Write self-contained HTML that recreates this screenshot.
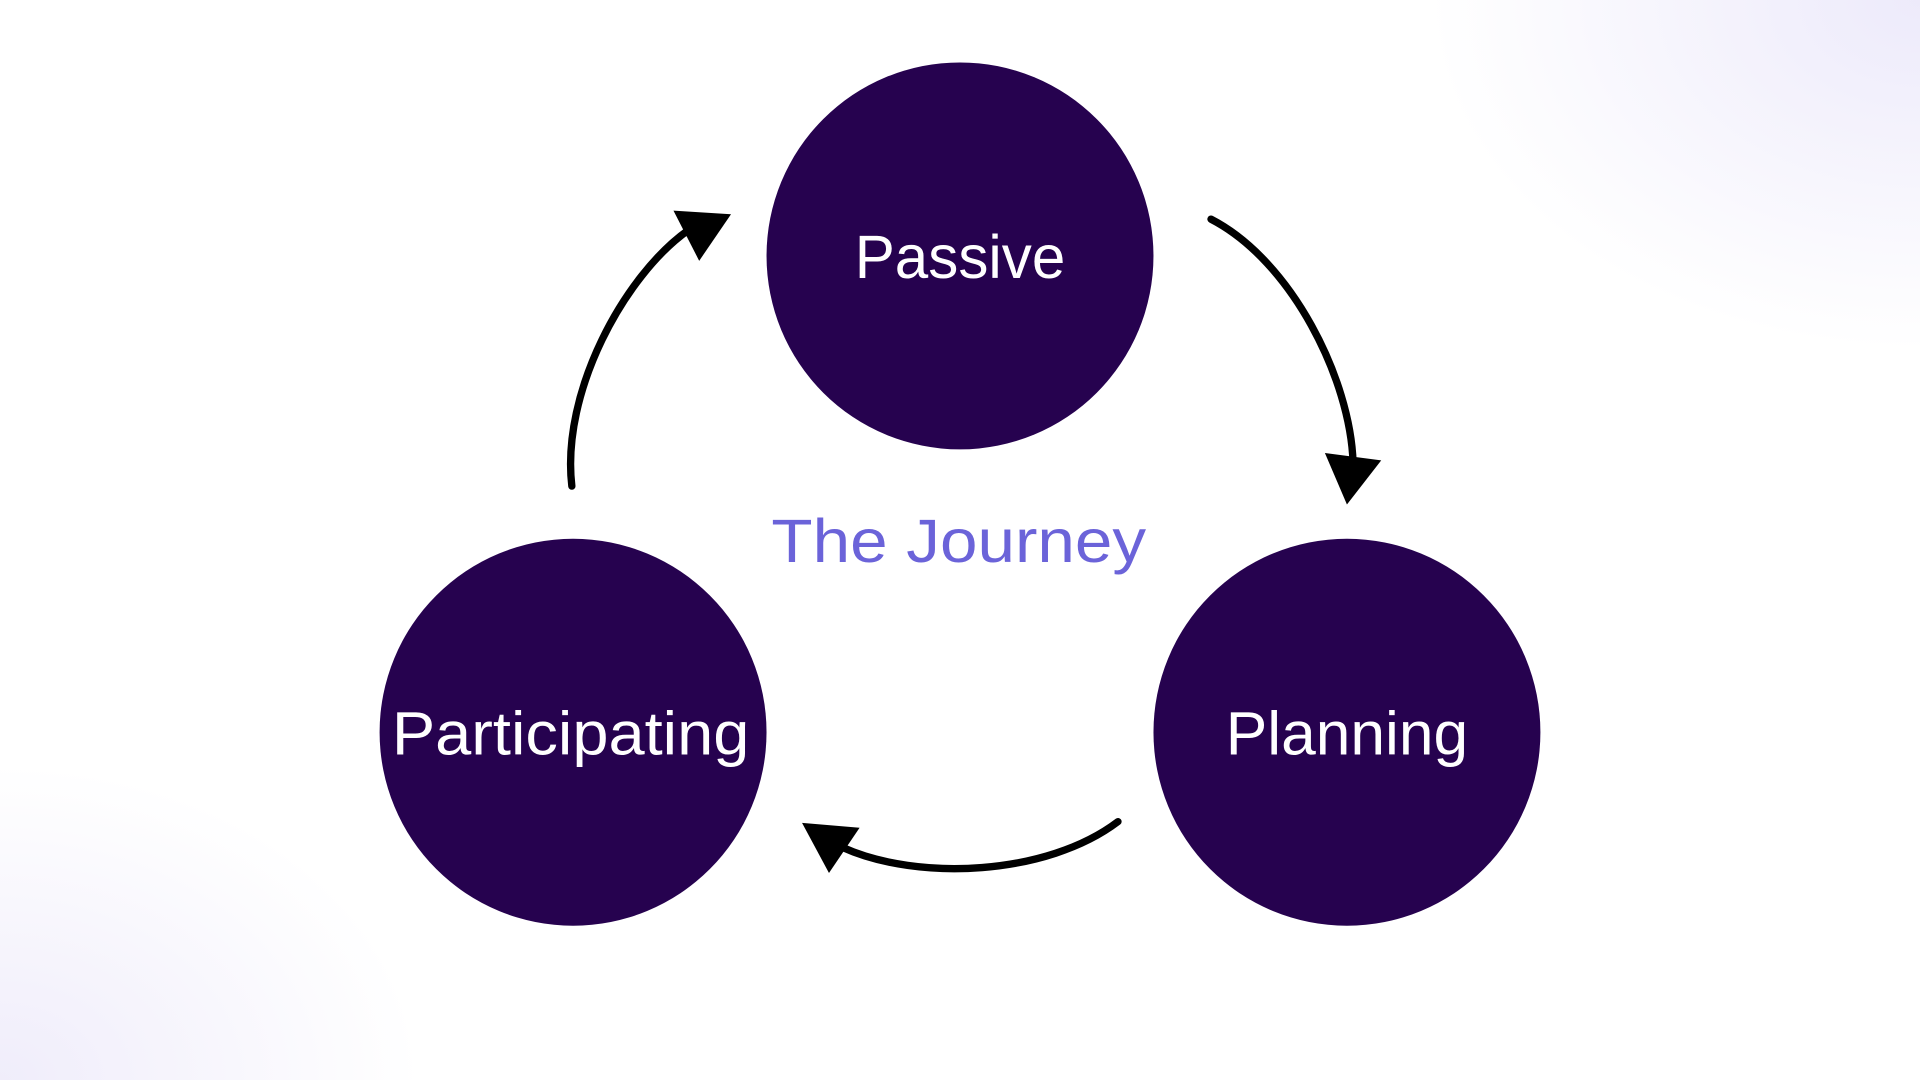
<!DOCTYPE html>
<html>
<head>
<meta charset="utf-8">
<style>
  html,body{margin:0;padding:0;width:1920px;height:1080px;overflow:hidden;background:#fff;}
  .bg{position:absolute;inset:0;
    background:
      radial-gradient(ellipse 700px 500px at 1920px 0px, rgba(235,232,250,0.9), rgba(255,255,255,0) 70%),
      radial-gradient(ellipse 600px 450px at 0px 1080px, rgba(238,235,250,0.9), rgba(255,255,255,0) 70%),
      #fff;}
  svg{position:absolute;left:0;top:0;}
  text{font-family:"Liberation Sans",sans-serif;}
</style>
</head>
<body>
<div class="bg"></div>
<svg width="1920" height="1080" viewBox="0 0 1568 882" xmlns="http://www.w3.org/2000/svg">
  <!-- circles -->
  <circle cx="784" cy="209" r="158" fill="#26024f"/>
  <circle cx="468" cy="598" r="158" fill="#26024f"/>
  <circle cx="1100" cy="598" r="158" fill="#26024f"/>

  <!-- labels -->
  <text x="784" y="227" text-anchor="middle" font-size="50" fill="#fff" font-weight="300" textLength="172" lengthAdjust="spacingAndGlyphs">Passive</text>
  <text x="466" y="616" text-anchor="middle" font-size="50" fill="#fff" font-weight="300" textLength="292" lengthAdjust="spacingAndGlyphs">Participating</text>
  <text x="1100" y="616" text-anchor="middle" font-size="50" fill="#fff" font-weight="300" textLength="198" lengthAdjust="spacingAndGlyphs">Planning</text>
  <text x="783" y="459" text-anchor="middle" font-size="50" fill="#6b63d9" font-weight="300" textLength="306" lengthAdjust="spacingAndGlyphs">The Journey</text>

  <!-- connectors -->
  <g fill="none" stroke="#000" stroke-width="6" stroke-linecap="round">
    <path d="M989,179 C1055,213 1103,310 1105,378"/>
    <path d="M913,671 C855,715 750,720 688,692"/>
    <path d="M467,397 C458,320 510,225 562,188"/>
  </g>
  <g fill="#000">
    <polygon points="1082,370 1128,376 1100,412"/>
    <polygon points="702,676 655,672 677,713"/>
    <polygon points="550,172 597,175 571,213"/>
  </g>
</svg>
</body>
</html>
